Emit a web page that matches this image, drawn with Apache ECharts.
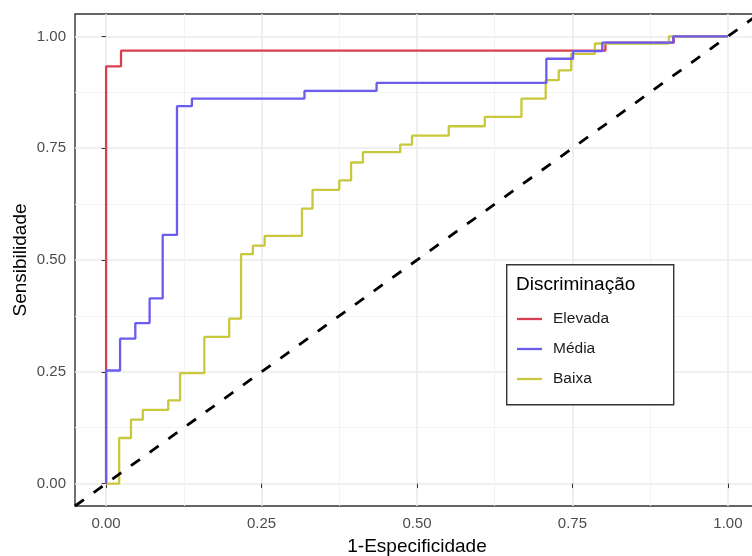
<!DOCTYPE html>
<html><head><meta charset="utf-8">
<script src="https://cdn.jsdelivr.net/npm/echarts@6/dist/echarts.min.js"></script>
<style>html,body{margin:0;padding:0;background:#fff}#c{width:752px;height:556px}</style>
</head><body><div id="c"></div>
<script>
// ROC curves: points where each vertical rise ends (step path, horizontal then vertical)
const elevadaX = [0, 0, 0.024, 0.803, 0.913, 1];
const elevadaY = [0, 0.933, 0.968, 0.986, 1, 1];

const mediaX = [0, 0, 0.0225, 0.047, 0.070, 0.091, 0.114, 0.138, 0.319, 0.435, 0.708, 0.751, 0.798, 0.912, 1];
const mediaY = [0, 0.253, 0.324, 0.359, 0.414, 0.556, 0.844, 0.861, 0.878, 0.896, 0.950, 0.967, 0.986, 1, 1];

const baixaX = [0, 0.021, 0.040, 0.059, 0.100, 0.119, 0.158, 0.198, 0.217, 0.236, 0.255, 0.315, 0.332, 0.375, 0.394, 0.413, 0.473, 0.492, 0.551, 0.609, 0.668, 0.707, 0.728, 0.748, 0.786, 0.905, 1];
const baixaY = [0, 0.102, 0.143, 0.165, 0.186, 0.247, 0.328, 0.369, 0.513, 0.532, 0.554, 0.615, 0.657, 0.678, 0.718, 0.741, 0.758, 0.778, 0.799, 0.820, 0.861, 0.902, 0.924, 0.961, 0.984, 1, 1];

const diagonal = [[-0.05, -0.05], [1.05, 1.05]];

const majorTicks = [0, 0.25, 0.5, 0.75, 1];
const minorTicks = [0.125, 0.375, 0.625, 0.875];

const legendNames = ['Elevada', 'Média', 'Baixa'];
const legendTitle = 'Discriminação';
const xTitle = '1-Especificidade';
const yTitle = 'Sensibilidade';

const FONT = '"Liberation Sans", Arial, sans-serif';
const colors = {Elevada: '#d9404f', 'Média': '#6b5cf0', Baixa: '#c9c83c'};

function pairs(xs, ys) { return xs.map((x, i) => [x, ys[i]]); }

function axisPair(dim) {
  const base = {
    type: 'value', min: -0.05, max: 1.05,
    axisLine: {show: false},
  };
  const major = Object.assign({}, base, {
    axisTick: {show: true, customValues: majorTicks, length: 4.5, lineStyle: {color: '#333', width: 1}},
    axisLabel: {show: true, customValues: majorTicks, formatter: v => v.toFixed(2),
      color: '#4d4d4d', fontSize: 15, fontFamily: FONT, margin: dim === 'x' ? 10 : 9},
    splitLine: {show: true, lineStyle: {color: '#ebebeb', width: 1.6}},
    name: dim === 'x' ? xTitle : yTitle,
    nameLocation: 'middle',
    nameMoveOverlap: false,
    nameGap: dim === 'x' ? 31 : 45,
    nameTextStyle: {color: '#000', fontSize: 19, fontFamily: FONT}
  });
  const minor = Object.assign({}, base, {
    axisTick: {show: false, customValues: minorTicks},
    axisLabel: {show: false, customValues: minorTicks},
    splitLine: {show: true, lineStyle: {color: '#f2f2f2', width: 0.9}}
  });
  return [major, minor];
}

const chart = echarts.init(document.getElementById('c'), null, {renderer: 'canvas'});
const lineBase = {type: 'line', step: 'end', symbol: 'none', showSymbol: false, animation: false,
  xAxisIndex: 0, yAxisIndex: 0};

chart.setOption({
  animation: false,
  backgroundColor: '#fff',
  grid: {left: 75, top: 14, width: 684, height: 492, show: true, borderColor: '#333', borderWidth: 1.4,
    backgroundColor: 'transparent', containLabel: false, outerBoundsMode: 'none'},
  xAxis: axisPair('x'),
  yAxis: axisPair('y'),
  legend: {
    data: legendNames,
    icon: 'rect',
    orient: 'vertical', left: 517, top: 311, padding: 0,
    itemWidth: 25, itemHeight: 2.3, itemGap: 14,
    selectedMode: false, z: 20,
    textStyle: {fontSize: 15.5, color: '#1a1a1a', fontFamily: FONT, padding: [0, 0, 0, 6]}
  },
  graphic: [
    {type: 'rect', left: 506, top: 264, shape: {width: 167, height: 140}, style: {fill: '#fff', stroke: '#333', lineWidth: 1.4}, z: 1},
    {type: 'text', left: 516, top: 275, style: {text: legendTitle, fontSize: 19, fontFamily: FONT, fill: '#000'}, z: 21}
  ],
  series: [
    Object.assign({}, lineBase, {name: 'Elevada', data: pairs(elevadaX, elevadaY), z: 2,
      itemStyle: {color: colors.Elevada}, lineStyle: {color: colors.Elevada, width: 2.3}}),
    Object.assign({}, lineBase, {name: 'Baixa', data: pairs(baixaX, baixaY), z: 3,
      itemStyle: {color: colors.Baixa}, lineStyle: {color: colors.Baixa, width: 2.3}}),
    Object.assign({}, lineBase, {name: 'Média', data: pairs(mediaX, mediaY), z: 4,
      itemStyle: {color: colors['Média']}, lineStyle: {color: colors['Média'], width: 2.3}}),
    {type: 'line', name: 'diag', data: diagonal, symbol: 'none', z: 5, silent: true,
      lineStyle: {color: '#000', width: 2.8, type: [11, 12]}}
  ]
});
</script></body></html>
